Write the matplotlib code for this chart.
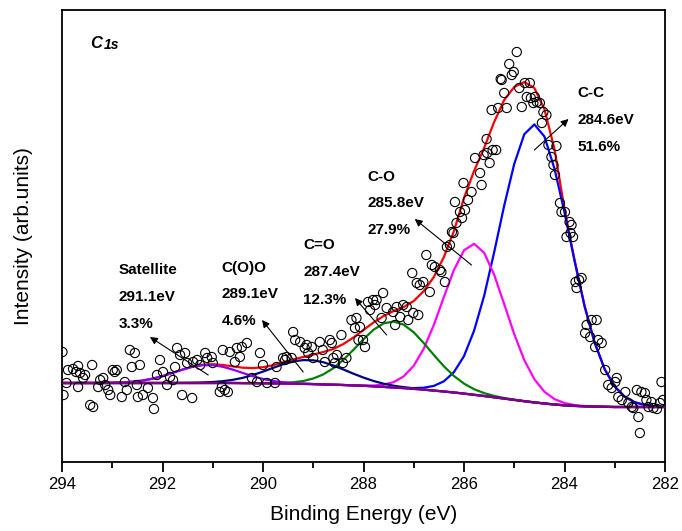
import numpy as np
import matplotlib
matplotlib.use("Agg")
import matplotlib.pyplot as plt

plt.rcParams['font.family'] = ['Liberation Sans', 'DejaVu Sans']

# ---- fitted-curve sampling grid (binding energy, eV) ----
grid_E = np.round(np.arange(282.0, 294.01, 0.2), 1)

# Shirley-like background (arb. units)
background = [55, 55, 55, 55, 55, 55, 55.2, 55.4, 55.7, 56.1,
              56.7, 57.5, 58.5, 59.6, 60.8, 62.1, 63.4, 64.7, 66.0, 67.2,
              68.4, 69.5, 70.5, 71.4, 72.3, 73.1, 73.8, 74.5, 75.1, 75.7,
              76.2, 76.6, 77.0, 77.3, 77.6, 77.9, 78.1, 78.3, 78.5, 78.6,
              78.7, 78.8, 78.9] + [79] * 18

# component heights above background
peak_CC = [0.3, 0.8, 2.0, 4.7, 10.2, 20.4, 37.5, 64, 100, 145,
           193, 236, 267, 278, 267, 236, 193, 145, 100, 64,
           37.5, 20.4, 10.2, 4.7, 2.0, 0.8, 0.3] + [0] * 34
peak_CO = [0] * 8 + [0.3, 0.8, 2.2, 5.4, 11.8, 23.2, 41.1, 65.7, 94.5, 122.6,
                     143.3, 151, 143.3, 122.6, 94.5, 65.7, 41.1, 23.2, 11.8, 5.4,
                     2.2, 0.8, 0.3] + [0] * 30
peak_C_O = [0] * 14 + [0.1, 0.26, 0.6, 1.4, 2.9, 5.6, 10.0, 16.5, 25.2, 35.6,
                       46.6, 56.6, 63.5, 66, 63.5, 56.6, 46.6, 35.6, 25.2, 16.5,
                       10.0, 5.6, 2.9, 1.4, 0.6, 0.26, 0.1] + [0] * 20
peak_COO = [0] * 23 + [0.1, 0.2, 0.5, 1.0, 1.8, 3.2, 5.3, 8.2, 11.7, 15.5,
                       19.2, 22.2, 23.8, 23.8, 22.2, 19.2, 15.5, 11.7, 8.2, 5.3,
                       3.2, 1.8, 1.0, 0.5, 0.2, 0.1] + [0] * 12
peak_sat = [0] * 35 + [0.1, 0.25, 0.6, 1.3, 2.4, 4.3, 6.9, 10.1, 13.4, 16.2,
                       17.8, 17.8, 16.2, 13.4, 10.1, 6.9, 4.3, 2.4, 1.3, 0.6,
                       0.25, 0.1] + [0] * 4

# cumulative fit envelope
envelope = [55.3, 55.8, 57.0, 59.7, 65.2, 75.4, 92.7, 119.4, 156, 202,
            253, 313, 353, 374, 380, 375, 362, 340, 314, 291,
            264, 231, 205, 185, 171, 161, 155, 151, 146, 139.5,
            132, 124.5, 118, 113, 110, 107.4, 105, 102.5, 99.6, 96.8,
            94.8, 93.9, 94.3, 95.6, 97, 97.8, 97.3, 95.4, 92.5, 89.1,
            85.9, 83.3, 81.4, 80.3, 79.6, 79.25, 79.1, 79, 79, 79,
            79]

# ---- measured spectrum (binding energy, intensity) ----
meas_E = [293.99, 293.97, 293.91, 293.88, 293.78, 293.72, 293.68, 293.68, 293.64, 293.58,
          293.54, 293.44, 293.40, 293.38, 293.28, 293.24, 293.18, 293.14, 293.08, 293.04,
          292.99, 292.95, 292.91, 292.81, 292.75, 292.71, 292.65, 292.61, 292.55, 292.51,
          292.49, 292.45, 292.39, 292.29, 292.19, 292.17, 292.11, 292.05, 291.99, 291.91,
          291.85, 291.79, 291.75, 291.71, 291.65, 291.61, 291.55, 291.51, 291.41, 291.39,
          291.31, 291.25, 291.15, 291.11, 291.02, 291.00, 290.86, 290.82, 290.80, 290.76,
          290.70, 290.66, 290.56, 290.52, 290.46, 290.42, 290.32, 290.22, 290.12, 290.06,
          290.00, 289.92, 289.76,
          289.73, 289.60, 289.56, 289.53, 289.43, 289.40, 289.36, 289.26, 289.17, 289.13,
          289.10, 289.03, 289.00, 288.87, 288.81, 288.77, 288.67, 288.63, 288.60, 288.57,
          288.53, 288.44, 288.41, 288.34, 288.24, 288.17, 288.14, 288.10, 288.07, 288.01,
          287.97, 287.91, 287.87, 287.81, 287.77, 287.74, 287.64, 287.61, 287.54, 287.41,
          287.37, 287.34, 287.27, 287.21, 287.14, 287.11, 287.01, 287.03, 286.94, 286.91,
          286.88, 286.81, 286.75, 286.68, 286.64, 286.58, 286.48, 286.45, 286.38, 286.34,
          286.28, 286.24, 286.21, 286.18, 286.15, 286.08, 286.04, 286.01, 285.98, 285.92,
          285.85, 285.78, 285.68, 285.65, 285.61, 285.55, 285.54, 285.49, 285.45, 285.43,
          285.36, 285.32, 285.27, 285.25, 285.20, 285.15, 285.10, 285.05, 285.01, 284.95,
          284.90, 284.85, 284.79, 284.75, 284.69, 284.67, 284.62, 284.59, 284.55, 284.49,
          284.45, 284.42, 284.36, 284.32, 284.26, 284.22, 284.19, 284.16, 284.09, 284.06,
          283.99, 283.96, 283.90, 283.88, 283.86, 283.83, 283.78, 283.76, 283.71, 283.66,
          283.59, 283.56, 283.49, 283.46, 283.39, 283.36, 283.33, 283.26, 283.19, 283.13,
          283.06, 282.99, 282.96, 282.93, 282.86, 282.79, 282.73, 282.66, 282.63, 282.56,
          282.53, 282.50, 282.47, 282.40, 282.37, 282.33, 282.27, 282.23, 282.16, 282.10,
          282.07, 282.04]
meas_I = [110, 67, 79, 92, 93, 90, 96, 75, 89, 84,
          87, 57, 97, 55, 75, 82, 84, 77, 72, 67,
          92, 90, 92, 65, 80, 72, 112, 95, 109, 77,
          65, 97, 67, 74, 64, 53, 87, 102, 90, 77,
          85, 82, 95, 114, 107, 67, 109, 99, 64, 100,
          102, 97, 109, 104, 105, 99, 70, 75, 112, 72,
          70, 110, 100, 114, 105, 115, 119, 84, 80, 109,
          97, 79, 79,
          95, 104, 102, 105, 104, 130, 122, 120, 114, 117,
          109, 115, 104, 120, 112, 100, 122, 119, 104, 99,
          107, 127, 99, 104, 142, 134, 144, 122, 135, 122,
          115, 160, 152, 162, 157, 162, 144, 169, 154, 150,
          137, 155, 145, 157, 155, 142, 149, 189, 179, 147,
          177, 180, 207, 170, 197, 195, 192, 190, 180, 215,
          217, 230, 229, 260, 239, 250, 244, 279, 252, 262,
          270, 304, 289, 277, 307, 323, 309, 299, 352, 312,
          312, 354, 383, 382, 369, 354, 398, 387, 390, 410,
          374, 355, 379, 365, 379, 364, 359, 365, 360, 359,
          339, 350, 347, 317, 305, 297, 287, 316, 259, 250,
          250, 225, 240, 229, 237, 225, 180, 174, 182, 184,
          129, 137, 125, 142, 115, 142, 122, 119, 92, 77,
          74, 80, 84, 65, 62, 70, 59, 55, 54, 72,
          45, 29, 70, 69, 62, 55, 60, 54, 53, 59,
          80, 62]

bg = np.array(background, dtype=float)
comps = [
    (np.array(peak_CC), '#0000FF'),
    (np.array(peak_CO), '#FF00FF'),
    (np.array(peak_C_O), '#008000'),
    (np.array(peak_COO), '#000080'),
    (np.array(peak_sat), '#8A00FF'),
]

fig = plt.figure(figsize=(6.82, 5.31), dpi=100)
ax = fig.add_axes([62 / 682, 1 - 462 / 531, (665 - 62) / 682, (462 - 10) / 531])

lw = 1.6
ax.plot(grid_E, envelope, color='#FF0000', lw=lw, zorder=2)
for p, c in comps:
    ax.plot(grid_E, bg + p, color=c, lw=lw, zorder=3)
ax.plot(grid_E, bg, color='#800080', lw=lw, zorder=4)

ax.scatter(meas_E, meas_I, s=44, facecolors='none', edgecolors='black',
           linewidths=0.8, zorder=5)

ax.set_xlim(294, 282)
ax.set_ylim(0, 452)
ax.set_xticks([294, 292, 290, 288, 286, 284, 282])
ax.set_xticks([293, 291, 289, 287, 285, 283], minor=True)
ax.set_yticks([])
ax.tick_params(axis='x', which='major', direction='out', length=7, width=1.3,
               labelsize=12, pad=4, top=False)
ax.tick_params(axis='x', which='minor', direction='out', length=4.5, width=1.3, top=False)
for s in ax.spines.values():
    s.set_linewidth(1.3)

ax.set_xlabel('Binding Energy (eV)', fontsize=15, labelpad=9)
ax.set_ylabel('Intensity (arb.units)', fontsize=15, labelpad=21)

# sample title
ax.text(293.44, 419, 'C', fontsize=12, fontweight='bold', fontstyle='italic',
        ha='left', va='center')
ax.text(293.17, 417, '1s', fontsize=10, fontweight='bold', fontstyle='italic',
        ha='left', va='center')

# peak labels
labels = [
    (283.75, [369, 342, 315], ['C-C', '284.6eV', '51.6%'], (284.60, 312), (283.92, 343)),
    (287.92, [285, 259, 232], ['C-O', '285.8eV', '27.9%'], (285.85, 197), (286.98, 243)),
    (289.20, [217, 190, 162], ['C=O', '287.4eV', '12.3%'], (287.54, 127), (288.17, 164)),
    (290.82, [194, 168, 141], ['C(O)O', '289.1eV', '4.6%'], (289.20, 90), (290.02, 142)),
    (292.88, [192, 165, 138], ['Satellite', '291.1eV', '3.3%'], (291.09, 87), (292.25, 125)),
]
for x, ys, txts, tail, head in labels:
    for y, t in zip(ys, txts):
        ax.text(x, y, t, fontsize=11, fontweight='bold', ha='left', va='center')
    ax.annotate('', xy=head, xytext=tail,
                arrowprops=dict(arrowstyle='-|>', color='black', lw=0.8,
                                mutation_scale=11, shrinkA=0, shrinkB=0))

fig.savefig('out.png', dpi=100)
